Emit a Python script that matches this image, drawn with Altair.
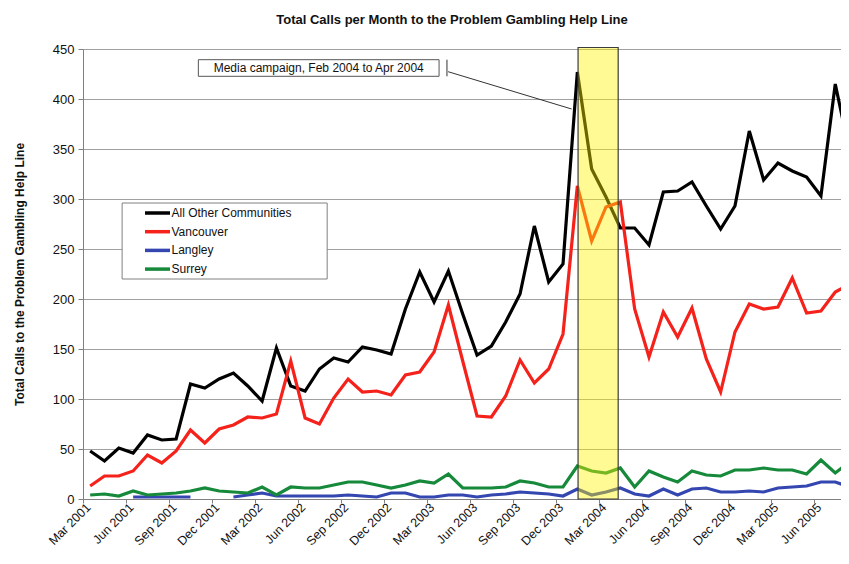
import json
import altair as alt
import pandas as pd

# ---- data (monthly, Mar 2001 .. Aug 2005) ----
series_names = ["All Other Communities", "Vancouver", "Langley", "Surrey"]
series_colors = ["#000000", "#f5221b", "#3446b0", "#168a3a"]

all_other = [48, 38, 51, 46, 64, 59, 60, 115, 111, 120, 126, 113, 98, 151, 113, 108,
             130, 141, 137, 152, 149, 145, 190, 227, 197, 228, 185, 144, 153, 177, 205,
             273, 217, 235, 427, 330, 302, 271, 271, 254, 307, 308, 317, 293, 270, 293,
             368, 319, 336, 328, 322, 303, 415, 347]
vancouver = [13, 23, 23, 28, 44, 36, 48, 69, 56, 70, 74, 82, 81, 85, 138, 81, 75, 101,
             120, 107, 108, 104, 124, 127, 147, 194, 138, 83, 82, 103, 139, 116, 130, 165,
             313, 258, 292, 297, 190, 142, 187, 162, 191, 140, 107, 167, 195, 190, 192,
             221, 186, 188, 207, 215]
langley = [None, None, None, 2, 2, 2, 2, 2, None, None, 2, 4, 6, 3, 3, 3, 3, 3, 4, 3, 2,
           6, 6, 2, 2, 4, 4, 2, 4, 5, 7, 6, 5, 3, 10, 4, 7, 11, 5, 3, 10, 4, 10, 11, 7, 7,
           8, 7, 11, 12, 13, 17, 17, 12]
surrey = [4, 5, 3, 8, 4, 5, 6, 8, 11, 8, 7, 6, 12, 4, 12, 11, 11, 14, 17, 17, 14, 11, 14,
          18, 16, 25, 11, 11, 11, 12, 18, 16, 12, 12, 33, 28, 26, 31, 12, 28, 22, 17, 28,
          24, 23, 29, 29, 31, 29, 29, 25, 39, 26, 37]

tick_labels = ["Mar 2001", "Jun 2001", "Sep 2001", "Dec 2001", "Mar 2002", "Jun 2002",
               "Sep 2002", "Dec 2002", "Mar 2003", "Jun 2003", "Sep 2003", "Dec 2003",
               "Mar 2004", "Jun 2004", "Sep 2004", "Dec 2004", "Mar 2005", "Jun 2005"]

title_text = "Total Calls per Month to the Problem Gambling Help Line"
y_title = "Total Calls to the Problem Gambling Help Line"
note_text = "Media campaign, Feb 2004 to Apr 2004"

# ---- build long table ----
rows = []
for name, vals in zip(series_names, [all_other, vancouver, langley, surrey]):
    for i, v in enumerate(vals):
        rows.append({"series": name, "month": i, "calls": v, "order": series_names.index(name)})
df = pd.DataFrame(rows)

FONT = "Liberation Sans"
x_scale = alt.Scale(domain=[-0.5, 52.4], nice=False, zero=False)
y_scale = alt.Scale(domain=[0, 450], nice=False)

label_expr = json.dumps(tick_labels) + "[round((datum.value + 0.5) / 3)]"

x_axis = alt.Axis(
    values=[3 * k - 0.5 for k in range(len(tick_labels))],
    labelExpr=label_expr, title=None, grid=False,
    labelAngle=315, labelAlign="right", labelBaseline="middle",
    labelOffset=5, labelPadding=2, labelFont=FONT, labelFontSize=12.5,
    labelColor="#111111", tickSize=4, tickColor="#808080",
    domainColor="#808080", labelOverlap=False, labelFlush=False,
)
y_axis = alt.Axis(
    values=list(range(0, 451, 50)), title=y_title, titleFont=FONT,
    titleFontSize=12, titleFontWeight="bold", titleColor="#111111",
    titlePadding=26, labelFont=FONT, labelFontSize=13, labelColor="#111111",
    labelPadding=4, tickSize=5, tickColor="#808080", domainColor="#808080",
    grid=True, gridColor="#a0a0a0", gridWidth=1,
)

lines = alt.Chart(df).mark_line(
    strokeWidth=3.2, invalid="break-paths-filter-domains", clip=True
).encode(
    x=alt.X("month:Q", scale=x_scale, axis=x_axis),
    y=alt.Y("calls:Q", scale=y_scale, axis=y_axis),
    color=alt.Color(
        "series:N",
        scale=alt.Scale(domain=series_names, range=series_colors),
        legend=alt.Legend(
            orient="none", legendX=39, legendY=154, title=None,
            symbolType="M-2.5,0H2.5", symbolSize=100, symbolStrokeWidth=3.5,
            labelFont=FONT, labelFontSize=12, labelColor="#111111",
            strokeColor="transparent", fillColor="transparent", padding=3,
            rowPadding=4.7, symbolOffset=25.5, labelOffset=7,
        ),
    ),
    order=alt.Order("order:Q"),
)

# legend frame (white box behind the legend entries)
legend_frame = pd.DataFrame([{"x": 2.23, "x2": 16.54, "y": 220, "y2": 296}])
frame = alt.Chart(legend_frame).mark_rect(
    fill="white", stroke="#808080", strokeWidth=1
).encode(
    x=alt.X("x:Q", scale=x_scale), x2="x2:Q",
    y=alt.Y("y:Q", scale=y_scale), y2="y2:Q",
)

# campaign highlight (Feb 2004 to Apr 2004)
campaign = pd.DataFrame([{"x": 34.05, "x2": 36.85, "y": 0, "y2": 451.5}])
band = alt.Chart(campaign).mark_rect(
    fill="#fff200", fillOpacity=0.42, stroke="#3c3c3c", strokeWidth=1.2
).encode(
    x=alt.X("x:Q", scale=x_scale), x2="x2:Q",
    y=alt.Y("y:Q", scale=y_scale), y2="y2:Q",
)

# callout box + text
note_box = pd.DataFrame([{"x": 7.55, "x2": 24.35, "y": 422.7, "y2": 439.3,
                          "tx": 15.95, "ty": 431.0, "label": note_text}])
note_rect = alt.Chart(note_box).mark_rect(
    fill="white", stroke="#555555", strokeWidth=1
).encode(
    x=alt.X("x:Q", scale=x_scale), x2="x2:Q",
    y=alt.Y("y:Q", scale=y_scale), y2="y2:Q",
)
note_label = alt.Chart(note_box).mark_text(
    font=FONT, fontSize=12, color="#111111", align="center", baseline="middle"
).encode(
    x=alt.X("tx:Q", scale=x_scale), y=alt.Y("ty:Q", scale=y_scale), text="label:N",
)

leaders = pd.DataFrame([
    {"x": 24.9, "x2": 24.9, "y": 422.7, "y2": 439.3},
    {"x": 24.98, "x2": 33.6, "y": 427.3, "y2": 390.0},
])
leader = alt.Chart(leaders).mark_rule(color="#333333", strokeWidth=1).encode(
    x=alt.X("x:Q", scale=x_scale), x2="x2:Q",
    y=alt.Y("y:Q", scale=y_scale), y2="y2:Q",
)

chart = alt.layer(lines, frame, band, note_rect, note_label, leader).properties(
    width=758, height=450,
    autosize=alt.AutoSizeParams(type="none"),
    padding={"left": 75, "top": 41, "right": 0, "bottom": 52},
    title=alt.TitleParams(
        title_text, font=FONT, fontSize=13, fontWeight="bold", color="#111111",
        anchor="middle", dx=-10, offset=16,
    ),
).configure_view(stroke=None).configure(background="white")

chart.save("out.html", embed_options={"renderer": "svg", "actions": False})
